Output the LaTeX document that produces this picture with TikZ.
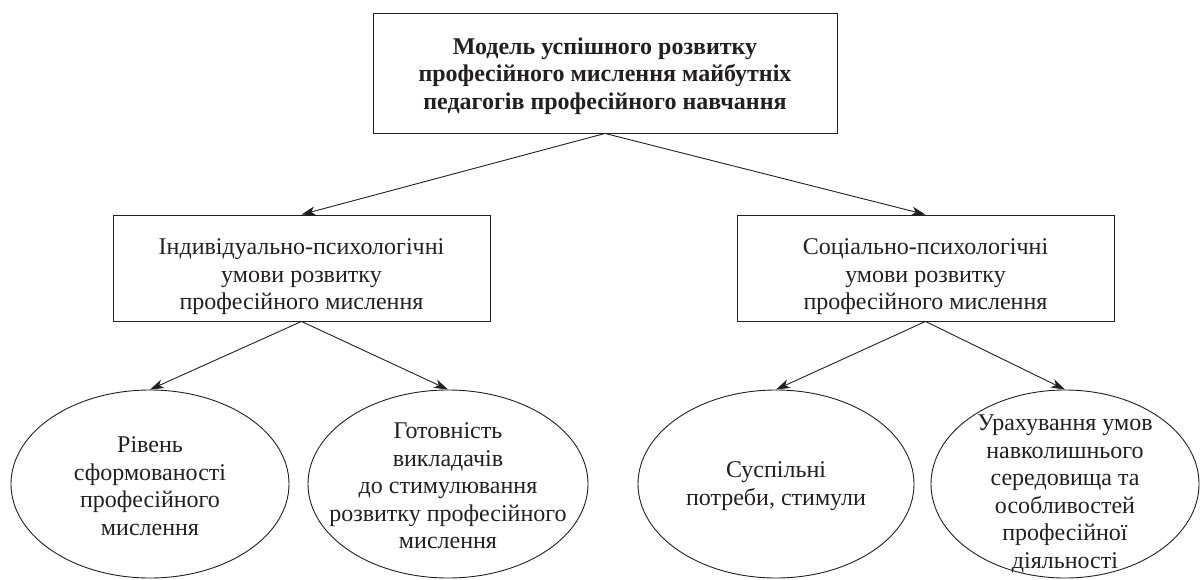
\documentclass[tikz,border=0pt]{standalone}
\usepackage{fontspec}
\setmainfont{Liberation Serif}
\usetikzlibrary{shapes.geometric,arrows.meta}
\definecolor{ink}{HTML}{231F20}
\begin{document}
\begin{tikzpicture}[x=1pt,y=-1pt,
  every node/.style={text=ink},
  boxnode/.style={draw=ink,line width=0.9pt,rectangle,inner sep=0pt},
  boxtext/.style={align=center,inner sep=0pt,font=\fontsize{24}{27.5}\selectfont},
  ovalnode/.style={draw=ink,line width=0.9pt,ellipse,inner sep=0pt,minimum height=188pt},
  ovaltext/.style={align=center,inner sep=0pt,font=\fontsize{24}{27.5}\selectfont},
  arr/.style={draw=ink,line width=0.9pt,-{Stealth[length=14pt,width=9pt,inset=4pt]}}]
\useasboundingbox (0,0) rectangle (1202,579);
\node[boxnode,minimum width=464pt,minimum height=120pt] (top) at (605,73) {};
\node[boxtext,font=\bfseries\fontsize{24}{27.5}\selectfont] (topt) at ([yshift=-3pt]top.center)
  {Модель успішного розвитку\\професійного мислення майбутніх\\педагогів професійного навчання};
\node[boxnode,minimum width=377pt,minimum height=106pt] (lm) at (301.5,268) {};
\node[boxtext] (lmt) at ([yshift=-9pt]lm.center)
  {Індивідуально-психологічні\\умови розвитку\\професійного мислення};
\node[boxnode,minimum width=377pt,minimum height=106pt] (rm) at (925.5,268) {};
\node[boxtext] (rmt) at ([yshift=-9pt]rm.center)
  {Соціально-психологічні\\умови розвитку\\професійного мислення};
\node[ovalnode,minimum width=278pt] (e1) at (150,484) {};
\node[ovalnode,minimum width=280pt] (e2) at (448,484) {};
\node[ovalnode,minimum width=276pt] (e3) at (776,484) {};
\node[ovalnode,minimum width=268pt] (e4) at (1065,484) {};
\node[ovaltext] (t1) at ([yshift=-2pt]e1.center) {Рівень\\сформованості\\професійного\\мислення};
\node[ovaltext] (t2) at ([yshift=-2pt]e2.center) {Готовність\\викладачів\\до стимулювання\\розвитку професійного\\мислення};
\node[ovaltext] (t3) at ([yshift=-2pt]e3.center) {Суспільні\\потреби, стимули};
\node[ovaltext] (t4) at ([yshift=-10pt]e4.center) {Урахування умов\\навколишнього\\середовища та\\особливостей\\професійної\\діяльності};
\draw[arr] (top.south) -- (lm.north);
\draw[arr] (top.south) -- (rm.north);
\draw[arr] (lm.south) -- (e1.north);
\draw[arr] (lm.south) -- (e2.north);
\draw[arr] (rm.south) -- (e3.north);
\draw[arr] (rm.south) -- (e4.north);
\end{tikzpicture}
\end{document}
